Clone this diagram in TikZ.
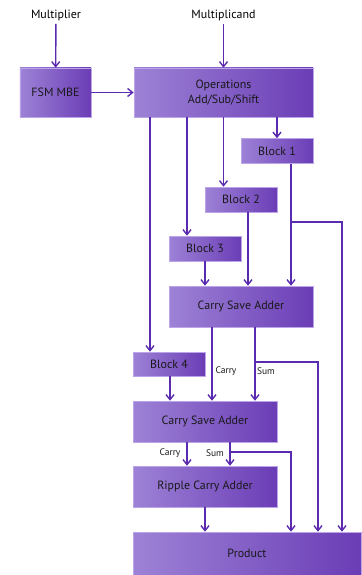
\documentclass[tikz,border=0pt]{standalone}
\usepackage{fontspec}
\setmainfont{PT Sans}
\usetikzlibrary{arrows.meta}
\definecolor{boxlight}{HTML}{9D82D6}
\definecolor{boxdark}{HTML}{6B3DB6}
\definecolor{wire}{HTML}{5A2BAE}
\definecolor{rim}{HTML}{BBA5E8}
\begin{document}
\begin{tikzpicture}
  [x=1bp,y=-1bp,font=\fontsize{12}{14.5}\selectfont,
   blk/.style={rectangle,left color=boxlight,right color=boxdark,draw=rim,line width=.6bp,
     inner sep=0pt,text=black!90,align=center},
   arr/.style={draw=wire,line width=1.4bp,-{Straight Barb[length=5bp,width=8bp]}},
   lbl/.style={font=\fontsize{9.5}{11}\selectfont,text=black!90}]
  \useasboundingbox (0,0) rectangle (361,575);
  \node (mplier) at (56,15) {Multiplier};
  \node (mcand) at (223.5,15) {Multiplicand};
  \node[blk,minimum width=71bp,minimum height=49bp] (fsm) at (55.5,92.5) {FSM MBE};
  \node[blk,minimum width=179bp,minimum height=49bp] (ops) at (223.5,92.5) {Operations\\Add/Sub/Shift};
  \node[blk,minimum width=72bp,minimum height=25bp] (blk1) at (277,151) {Block 1};
  \node[blk,minimum width=72bp,minimum height=25bp] (blk2) at (241,199.5) {Block 2};
  \node[blk,minimum width=72bp,minimum height=25bp] (blk3) at (205,248.5) {Block 3};
  \node[blk,minimum width=144bp,minimum height=41bp] (csa1) at (241,306.5) {Carry Save Adder};
  \node[blk,minimum width=72bp,minimum height=24bp] (blk4) at (169,364) {Block 4};
  \node[blk,minimum width=144bp,minimum height=41bp] (csa2) at (205,421.5) {Carry Save Adder};
  \node[blk,minimum width=144bp,minimum height=41bp] (rca) at (205,486.5) {Ripple Carry Adder};
  \node[blk,minimum width=228bp,minimum height=43bp] (prod) at (247,553.5) {Product};

  \node[lbl] (lcy1) at (226,371) {Carry};
  \node[lbl] (lsm1) at (266,371) {Sum};
  \node[lbl] (lcy2) at (170,453) {Carry};
  \node[lbl] (lsm2) at (215,453) {Sum};

  \draw[arr] (mplier) -- (fsm);
  \draw[arr] (mcand) -- (ops);
  \draw[arr] (fsm) -- (ops);
  \foreach \x/\from/\to in {277/ops/blk1,223.5/ops/blk2,187/ops/blk3,150/ops/blk4,
      291/blk1/csa1,248/blk2/csa1,205/blk3/csa1,170/blk4/csa2,212/csa1/csa2,255/csa1/csa2,
      187/csa2/rca,230/csa2/rca,205/rca/prod}
    \draw[arr] (\from.south -| \x,0) -- (\to.north -| \x,0);

  % side rails down to the product
  \coordinate (j1) at (291,222);
  \coordinate (j2) at (255,362);
  \coordinate (j3) at (230,452);
  \draw[arr] (j1) -| (prod.north -| 342,0);
  \draw[arr] (j2) -| (prod.north -| 318,0);
  \draw[arr] (j3) -| (prod.north -| 291,0);
\end{tikzpicture}
\end{document}
